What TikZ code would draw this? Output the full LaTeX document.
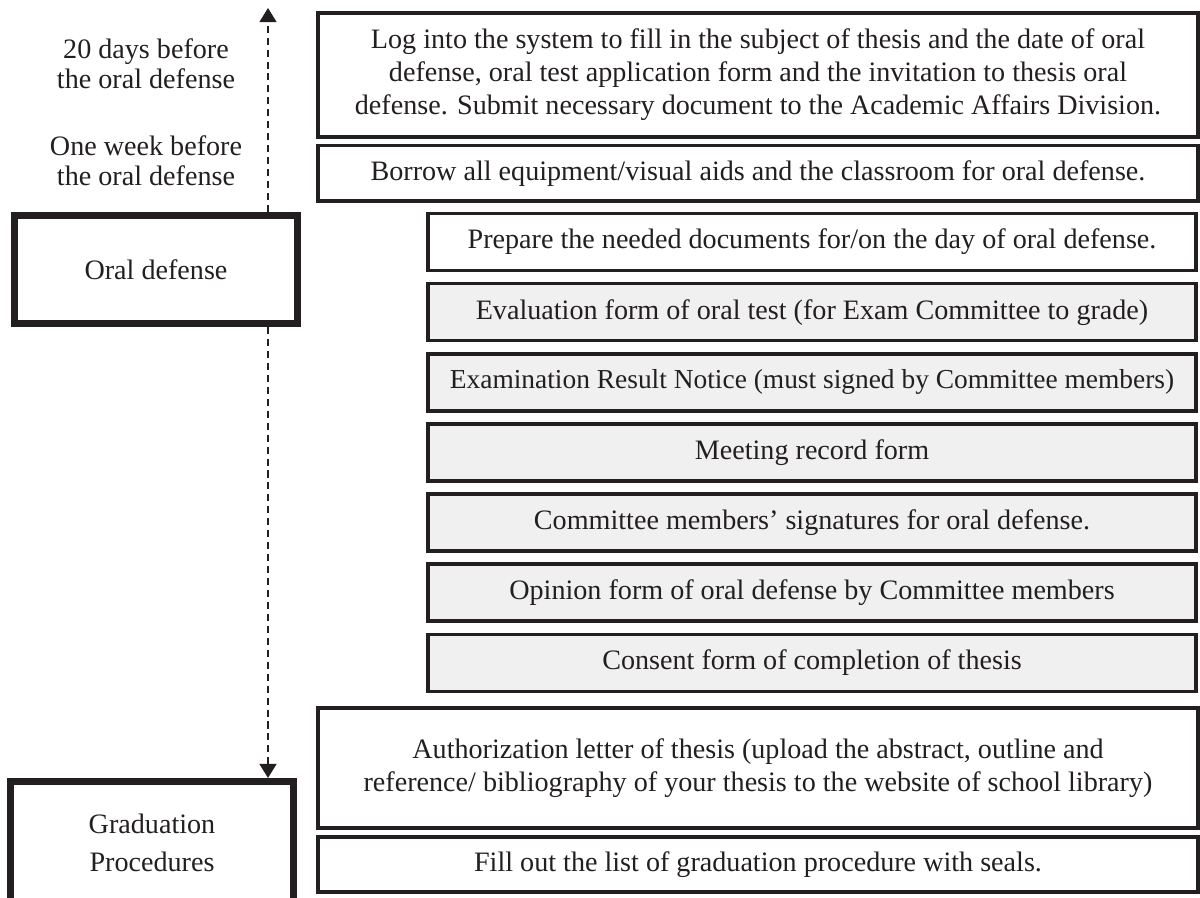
\documentclass[tikz,border=0pt]{standalone}
\usepackage{xcolor}
\usepackage{fontspec}
\setmainfont{Liberation Serif}
\usetikzlibrary{positioning,arrows.meta}

\definecolor{inkline}{HTML}{231F20}
\definecolor{formgray}{HTML}{F0F0F0}

\begin{document}
\begin{tikzpicture}[
    x=0.025cm, y=-0.025cm,
    node distance=0.24cm,
    font=\fontsize{20}{23.5}\selectfont,
    every node/.style={text=inkline},
    stepbox/.style={rectangle, draw=inkline, line width=2.5pt, fill=white, align=center, minimum width=22cm, minimum height=1.375cm},
    formbox/.style={stepbox, fill=formgray, minimum width=19.2cm, minimum height=1.425cm},
    phase/.style={rectangle, draw=inkline, line width=5pt, align=center, minimum width=7.05cm, minimum height=2.7cm},
    when/.style={align=center, font=\fontsize{20}{21.5}\selectfont},
    timeline/.style={draw=inkline, line width=1.3pt, dash pattern=on 5pt off 3.5pt, -{Triangle[length=10pt,width=12pt]}}
]
\useasboundingbox (0,0) rectangle (1200,897);

% time column
\node[when] (twenty) at (146,64) {20 days before\\the oral defense};
\node[when] (oneweek) at (146,161) {One week before\\the oral defense};
\node[phase] (oral) at (156,269.5) {Oral defense};
\node[phase, minimum height=3.05cm, font=\fontsize{20}{27}\selectfont] (grad) at (152,842.5) {Graduation\\Procedures};
\coordinate (top) at (268,8);

% steps
\node[stepbox, minimum height=3.1cm] (login) at (758,75) {Log into the system to fill in the subject of thesis and the date of oral\\defense, oral test application form and the invitation to thesis oral\\defense. Submit necessary document to the Academic Affairs Division.};
\node[stepbox, below=0.13cm of login] (borrow) {Borrow all equipment/visual aids and the classroom for oral defense.};
\node[formbox, fill=white] (prepare) at (812,242) {Prepare the needed documents for/on the day of oral defense.};
\node[formbox, below=of prepare] (evalform) {Evaluation form of oral test (for Exam Committee to grade)};
\node[formbox, below=of evalform, font=\fontsize{19.5}{22}\selectfont] (notice) {Examination Result Notice (must signed by Committee members)};
\node[formbox, below=of notice] (record) {Meeting record form};
\node[formbox, below=of record] (signs) {Committee members’ signatures for oral defense.};
\node[formbox, below=of signs] (opinion) {Opinion form of oral defense by Committee members};
\node[formbox, below=of opinion] (consent) {Consent form of completion of thesis};
\node[stepbox, minimum height=3.0cm] (auth) at (758,768) {Authorization letter of thesis (upload the abstract, outline and\\reference/ bibliography of your thesis to the website of school library)};
\node[stepbox, below=0.13cm of auth] (fillout) {Fill out the list of graduation procedure with seals.};

\draw[timeline] (oral.north -| top) -- (top);
\draw[timeline] (oral.south -| top) -- (grad.north -| top);

\end{tikzpicture}
\end{document}
